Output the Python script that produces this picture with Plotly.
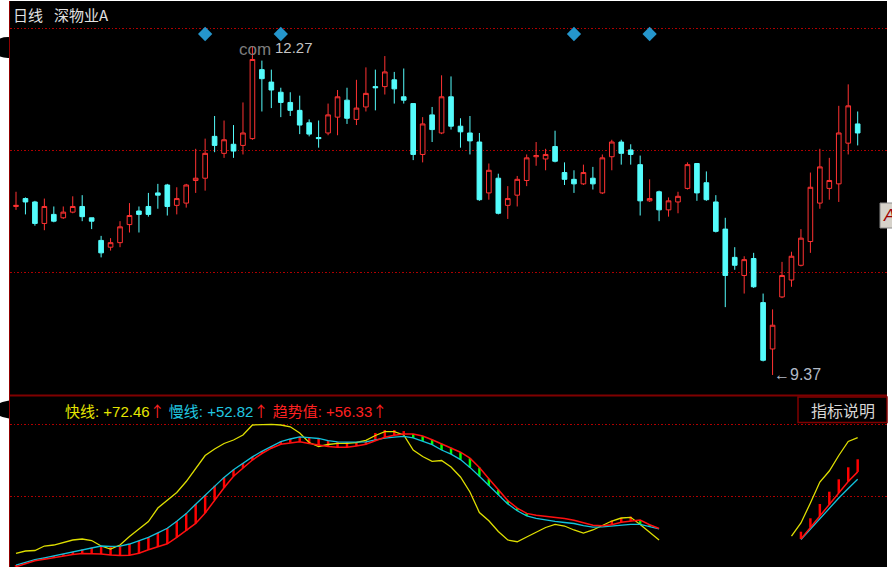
import plotly.graph_objects as go

# ---------------- data ----------------
days = list(range(90))

opens = [10.86, 10.93, 10.90, 10.71, 10.79, 10.76, 10.81, 10.86, 10.76, 10.56,
         10.50, 10.54, 10.70, 10.82, 10.86, 10.98, 11.05, 10.87, 10.89, 11.09,
         11.11, 11.48, 11.33, 11.41, 11.40, 11.46, 12.07, 11.96, 11.87, 11.78,
         11.71, 11.60, 11.47, 11.51, 11.65, 11.80, 11.63, 11.74, 11.92, 11.92,
         11.98, 11.83, 11.77, 11.32, 11.67, 11.51, 11.83, 11.57, 11.51, 11.43,
         10.98, 11.11, 10.87, 10.96, 11.09, 11.30, 11.28, 11.39, 11.16, 11.10,
         11.06, 11.11, 10.98, 11.30, 11.43, 11.36, 11.23, 10.91, 10.99, 10.83,
         10.90, 11.02, 11.24, 11.07, 10.90, 10.66, 10.41, 10.25, 10.40, 10.01,
         9.60, 10.06, 10.21, 10.34, 10.55, 10.89, 11.02, 11.06, 11.42, 11.59]
highs = [10.99, 10.94, 10.91, 10.93, 10.86, 10.86, 10.95, 10.96, 10.76, 10.60,
         10.58, 10.73, 10.89, 10.86, 10.98, 11.06, 11.06, 11.03, 11.06, 11.37,
         11.46, 11.66, 11.62, 11.58, 11.78, 12.27, 12.15, 12.07, 11.91, 11.87,
         11.84, 11.63, 11.62, 11.77, 11.89, 11.91, 11.98, 12.09, 12.07, 12.19,
         12.05, 12.08, 11.77, 11.65, 11.74, 12.02, 12.01, 11.64, 11.66, 11.51,
         11.24, 11.15, 11.04, 11.13, 11.32, 11.43, 11.37, 11.53, 11.25, 11.18,
         11.23, 11.21, 11.32, 11.45, 11.45, 11.41, 11.31, 11.10, 11.00, 10.94,
         10.99, 11.25, 11.24, 11.17, 10.96, 10.76, 10.50, 10.42, 10.45, 10.09,
         9.95, 10.37, 10.46, 10.66, 11.16, 11.37, 11.29, 11.75, 11.94, 11.70]
lows = [10.83, 10.79, 10.69, 10.65, 10.72, 10.75, 10.80, 10.73, 10.66, 10.41,
        10.47, 10.50, 10.63, 10.63, 10.77, 10.84, 10.78, 10.79, 10.85, 10.98,
        11.00, 11.34, 11.29, 11.29, 11.32, 11.45, 11.70, 11.73, 11.65, 11.66,
        11.50, 11.48, 11.38, 11.49, 11.49, 11.59, 11.58, 11.70, 11.71, 11.85,
        11.77, 11.77, 11.27, 11.25, 11.43, 11.50, 11.54, 11.38, 11.32, 10.91,
        10.92, 10.79, 10.75, 10.86, 11.04, 11.22, 11.18, 11.25, 11.05, 10.98,
        11.05, 11.01, 10.97, 11.18, 11.23, 11.23, 10.78, 10.90, 10.73, 10.77,
        10.80, 11.01, 10.91, 10.91, 10.63, 9.97, 10.30, 10.09, 10.14, 9.49,
        9.37, 10.05, 10.15, 10.33, 10.45, 10.84, 10.92, 10.90, 11.32, 11.40]
closes = [10.87, 10.90, 10.71, 10.86, 10.73, 10.81, 10.86, 10.77, 10.73, 10.45,
          10.54, 10.68, 10.78, 10.79, 10.79, 10.96, 10.86, 10.93, 11.05, 11.11,
          11.33, 11.40, 11.45, 11.35, 11.51, 12.16, 11.99, 11.89, 11.78, 11.71,
          11.58, 11.50, 11.46, 11.67, 11.83, 11.64, 11.73, 11.86, 11.91, 12.05,
          11.90, 11.80, 11.32, 11.59, 11.54, 11.83, 11.57, 11.52, 11.44, 10.92,
          11.18, 10.80, 10.93, 11.10, 11.29, 11.31, 11.32, 11.26, 11.10, 11.06,
          11.16, 11.06, 11.29, 11.43, 11.33, 11.32, 10.91, 10.93, 10.83, 10.91,
          10.95, 11.23, 10.98, 10.92, 10.64, 10.25, 10.34, 10.39, 10.15, 9.50,
          9.81, 10.25, 10.42, 10.58, 11.03, 11.21, 11.09, 11.51, 11.75, 11.51]

signal_days = [20, 28, 59, 67]

N = None
fast_line = [17.89, 18.98, 19.22, 21.34, 21.81, 22.99, 24.17, 24.65, 23.94, 21.34,
             19.92, 21.81, 25.83, 29.37, 32.91, 39.28, 42.82, 46.60, 51.79, 58.17,
             64.07, 67.14, 69.73, 71.39, 73.75, 78.47, 78.80, 78.80, 78.47, 77.62,
             74.69, 70.21, 68.32, 69.26, 69.83, 69.83, 70.21, 71.25, 73.51, 75.31,
             75.31, 73.75, 66.67, 63.60, 61.33, 61.71, 58.64, 53.92, 46.84, 37.16,
             33.29, 28.19, 24.17, 23.37, 25.59, 27.95, 30.08, 31.59, 30.78, 28.90,
             27.48, 28.90, 31.02, 33.14, 34.56, 34.89, 31.49, 27.95, 24.17,
             N, N, N, N, N, N, N, N, N, N, N, N, N,
             26.06, 32.20, 41.64, 51.56, 56.75, 64.07, 70.68, 72.46]
slow_line = [12.37, 13.69, 14.92, 15.77, 16.67, 17.56, 18.56, 19.69, 20.59, 21.34,
             21.15, 21.29, 22.29, 23.70, 25.45, 27.57, 29.74, 33.05, 36.64, 41.08,
             45.42, 49.81, 53.73, 57.37, 60.48, 63.41, 66.05, 68.41, 70.58, 71.86,
             72.90, 72.52, 72.10, 71.06, 70.49, 70.35, 70.40, 70.54, 71.43, 72.28,
             72.71, 73.13, 72.38, 70.91, 69.22, 66.67, 64.73, 62.13, 58.45, 54.25,
             49.86, 45.51, 41.22, 37.96, 35.55, 34.42, 33.57, 32.96, 32.44, 31.96,
             30.93, 30.22, 30.36, 30.78, 31.44, 31.59, 31.59, 30.50, 29.46,
             N, N, N, N, N, N, N, N, N, N, N, N, N, N,
             24.41, 29.37, 34.32, 39.28, 44.00, 48.49, 52.82]
trend_line = [11.57, 13.08, 14.40, 15.11, 15.86, 16.76, 17.37, 17.85, 17.75, 17.52,
              17.04, 16.81, 17.00, 17.89, 19.55, 20.96, 22.38, 25.40, 28.52, 32.01,
              36.92, 43.06, 48.82, 54.25, 58.21, 61.94, 65.01, 67.52, 69.40, 70.16,
              70.58, 69.74, 68.93, 68.27, 67.94, 67.94, 68.55, 69.40, 71.06, 72.66,
              73.65, 74.22, 74.22, 73.23, 71.53, 69.64, 67.75, 65.63, 62.84, 58.40,
              53.12, 47.87, 42.78, 39.23, 36.73, 35.88, 35.32, 34.99, 34.28, 33.47,
              32.20, 31.16, 30.93, 31.40, 32.58, 33.19, 33.57, 31.40, 29.60,
              N, N, N, N, N, N, N, N, N, N, N, N, N, N,
              24.65, 30.08, 35.51, 40.93, 46.36, 51.79, 56.33]
# far end of each trend stick (its base is the trend line); None = no stick
stick_end = [12.37, 13.69, 14.92, 15.77, 16.67, 17.56, 18.56, 19.69, 20.59, 21.34,
             21.15, 21.29, 22.29, 23.70, 25.45, 27.57, 29.74, 33.05, 36.64, 41.08,
             45.42, 49.81, 53.73, 57.37, 60.48, 63.41, 66.05, 68.41, 70.58, 71.86,
             72.90, 72.52, 72.10, 71.06, 70.49, 70.35, 70.40, 70.54, 74.69, 76.11,
             76.11, 75.60, 72.38, 70.91, 69.22, 66.67, 64.73, 62.13, 58.45, 54.25,
             49.86, 45.51, 41.22, 37.96, 35.55,
             N, N, N, N, N, N, N, N,
             33.30, 34.60, 35.20, 31.59, 30.50,
             N, N, N, N, N, N, N, N, N, N, N, N, N, N, N,
             28.09, 34.42, 41.17, 46.98, 52.83, 58.50, 62.28]

stock_name = "深物业A"
period_name = "日线"
high_label = "12.27"
low_label = "9.37"
fast_label, slow_label, trend_label = "+72.46", "+52.82", "+56.33"

# ---------------- layout helpers ----------------
W, H = 892, 567
LM, RM, TM, BM = 10, 5, 1, 0
PW, PH = W - LM - RM, H - TM - BM


def px_x(px):
    return (px - LM) / PW


def px_y(py):
    return (H - BM - py) / PH


X_RANGE = [-0.634, 92.10]
PRICE_RANGE = [9.193, 12.677]
IND_RANGE = [11.43, 92.63]
PRICE_GRID = [10.275, 11.359, 12.435]
IND_GRID = [44.95, 78.80]
SIGNAL_LEVEL = 12.385
SPLIT = px_y(395)

RED = "#ff3232"
CYAN = "#54fcfc"
GRID = "#b00000"

fig = go.Figure()

fig.add_trace(go.Candlestick(
    x=days, open=opens, high=highs, low=lows, close=closes,
    increasing=dict(line=dict(color=RED, width=1), fillcolor="#000000"),
    decreasing=dict(line=dict(color=CYAN, width=1), fillcolor=CYAN),
    whiskerwidth=0, hoverinfo="skip", xaxis="x", yaxis="y"))

fig.add_trace(go.Scatter(
    x=signal_days, y=[SIGNAL_LEVEL] * len(signal_days), mode="markers",
    marker=dict(symbol="diamond", size=11, color="#2596cc"),
    hoverinfo="skip", xaxis="x", yaxis="y"))

# trend sticks
up_x, up_b, up_h, dn_x, dn_b, dn_h = [], [], [], [], [], []
for d, e, t in zip(days, stick_end, trend_line):
    if e is None or t is None:
        continue
    if e >= t:
        up_x.append(d); up_b.append(t); up_h.append(e - t)
    else:
        dn_x.append(d); dn_b.append(t); dn_h.append(e - t)
fig.add_trace(go.Bar(x=up_x, y=up_h, base=up_b, width=0.26,
                     marker=dict(color="#ff0000", line=dict(width=0)),
                     hoverinfo="skip", xaxis="x2", yaxis="y2"))
fig.add_trace(go.Bar(x=dn_x, y=dn_h, base=dn_b, width=0.26,
                     marker=dict(color="#00ff00", line=dict(width=0)),
                     hoverinfo="skip", xaxis="x2", yaxis="y2"))

fig.add_trace(go.Scatter(x=days, y=fast_line, mode="lines",
                         line=dict(color="#dede00", width=1.3),
                         connectgaps=False, hoverinfo="skip", xaxis="x2", yaxis="y2"))
fig.add_trace(go.Scatter(x=days, y=slow_line, mode="lines",
                         line=dict(color="#12c2dc", width=1.3),
                         connectgaps=False, hoverinfo="skip", xaxis="x2", yaxis="y2"))
fig.add_trace(go.Scatter(x=days, y=trend_line, mode="lines",
                         line=dict(color="#ff1010", width=1.5),
                         connectgaps=False, hoverinfo="skip", xaxis="x2", yaxis="y2"))

axis_common = dict(showticklabels=False, zeroline=False, ticks="", showline=False)

fig.update_layout(
    width=W, height=H,
    margin=dict(l=LM, r=RM, t=TM, b=BM, pad=0),
    paper_bgcolor="#ffffff", plot_bgcolor="#000000",
    showlegend=False, barmode="overlay",
    xaxis=dict(domain=[0, 1], range=X_RANGE, anchor="y", showgrid=False,
               rangeslider=dict(visible=False), **axis_common),
    yaxis=dict(domain=[SPLIT, 1], range=PRICE_RANGE, anchor="x",
               tickvals=PRICE_GRID, showgrid=True, gridcolor=GRID,
               gridwidth=1, griddash="1.5px,2px", **axis_common),
    xaxis2=dict(domain=[0, 1], range=X_RANGE, anchor="y2", showgrid=False,
                **axis_common),
    yaxis2=dict(domain=[0, SPLIT], range=IND_RANGE, anchor="x2",
                tickvals=IND_GRID, showgrid=True, gridcolor=GRID,
                gridwidth=1, griddash="1.5px,2px", **axis_common),
    font=dict(family="Liberation Sans, Noto Sans CJK SC, sans-serif"),
)

shapes = [
    # blurred smudges on the left edge
    dict(type="circle", xref="paper", yref="paper", x0=px_x(-8), x1=px_x(24),
         y0=px_y(58), y1=px_y(37), fillcolor="#000000", line=dict(width=0), layer="above"),
    dict(type="circle", xref="paper", yref="paper", x0=px_x(-8), x1=px_x(64),
         y0=px_y(420), y1=px_y(399), fillcolor="#000000", line=dict(width=0), layer="above"),
    # left border
    dict(type="line", xref="paper", yref="paper", x0=px_x(9.5), x1=px_x(9.5),
         y0=0, y1=1, line=dict(color="#900000", width=1)),
    # panel separator
    dict(type="line", xref="paper", yref="paper", x0=px_x(10), x1=px_x(887),
         y0=px_y(395.5), y1=px_y(395.5), line=dict(color="#800000", width=2)),
    # indicator-help box
    dict(type="rect", xref="paper", yref="paper", x0=px_x(798), x1=px_x(887),
         y0=px_y(422.5), y1=px_y(397), fillcolor="#000000",
         line=dict(color="#800000", width=1.5)),
    # small button on the right edge
    dict(type="rect", xref="paper", yref="paper", x0=px_x(880), x1=px_x(896),
         y0=px_y(228), y1=px_y(203), fillcolor="#d6d2ca",
         line=dict(color="#8c8c8c", width=1)),
]
fig.update_layout(shapes=shapes)

cjk = "Noto Sans CJK SC, sans-serif"
num = "Liberation Sans, Noto Sans CJK SC, sans-serif"
arrow = '<span style="color:#ff2020;font-family:Noto Sans CJK SC">↑</span>'
ind_text = (
    '<span style="color:#e6e600">快线: ' + fast_label + '</span>' + arrow + ' '
    '<span style="color:#20c8e0">慢线: ' + slow_label + '</span>' + arrow + ' '
    '<span style="color:#ff2020">趋势值: ' + trend_label + '</span>' + arrow
)
annotations = [
    dict(text=period_name, x=px_x(11), y=px_y(15), xref="paper", yref="paper",
         xanchor="left", yanchor="middle", showarrow=False,
         font=dict(family=cjk, size=15, color="#e2e2e2")),
    dict(text=stock_name, x=px_x(52), y=px_y(15), xref="paper", yref="paper",
         xanchor="left", yanchor="middle", showarrow=False,
         font=dict(family=cjk, size=15, color="#e2e2e2")),
    dict(text="com", x=px_x(237), y=px_y(50), xref="paper", yref="paper",
         xanchor="left", yanchor="middle", showarrow=False,
         font=dict(family=num, size=17, color="#7c7c7c")),
    dict(text=high_label, x=25, y=12.27, xref="x", yref="y", xanchor="left",
         yanchor="middle", xshift=21, showarrow=False,
         font=dict(family=num, size=15, color="#c4c4c4")),
    dict(text="←" + low_label, x=80, y=9.37, xref="x", yref="y", xanchor="left",
         yanchor="middle", xshift=-1, showarrow=False,
         font=dict(family=num, size=16, color="#b2bac6")),
    dict(text=ind_text, x=px_x(63), y=px_y(410), xref="paper", yref="paper",
         xanchor="left", yanchor="middle", showarrow=False,
         font=dict(family=num, size=15)),
    dict(text="指标说明", x=px_x(842.5), y=px_y(410), xref="paper", yref="paper",
         xanchor="center", yanchor="middle", showarrow=False,
         font=dict(family=cjk, size=16, color="#d6d6d6")),
    dict(text="<i>A</i>", x=px_x(881), y=px_y(215), xref="paper", yref="paper",
         xanchor="left", yanchor="middle", showarrow=False,
         font=dict(family=num, size=17, color="#a00000")),
]
fig.update_layout(annotations=annotations)

fig.write_html(
    "out.html",
    config={"displayModeBar": False, "staticPlot": True},
    post_script="document.body.style.margin='0';document.body.style.padding='0';"
                "document.documentElement.style.overflow='hidden';",
)
